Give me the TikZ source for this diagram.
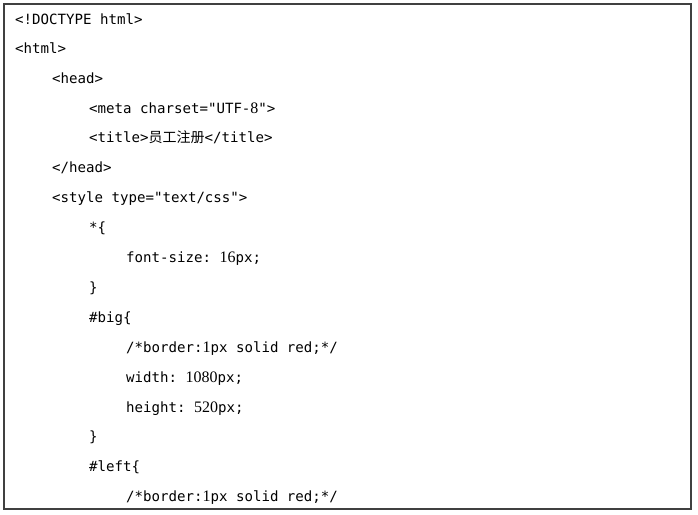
\documentclass[tikz,border=0pt]{standalone}
\usepackage{fontspec}
\setmonofont{DejaVu Sans Mono}
\newfontfamily\dg{Liberation Serif}
\newfontfamily\cjk{Noto Sans CJK SC}
\newcommand\dd[1]{{\fontsize{16pt}{16pt}\dg #1}}
\newcommand\zh[1]{{\fontsize{14pt}{14pt}\cjk #1}}
\begin{document}
\begin{tikzpicture}[x=1pt,y=-1pt,
  codeline/.style={anchor=base west,inner sep=0pt,font=\fontsize{14.1pt}{14pt}\ttfamily,text=black}]
\useasboundingbox (0,0) rectangle (698,514);
\draw[line width=1.5pt,draw=black!75] (4,4) rectangle (691,509);
\def\bl#1{\fpeval{113+(#1-4)*29.9}}
\node[codeline] (l1)  at (15,  24.5)    {<!DOCTYPE html>};
\node[codeline] (l2)  at (15,  \bl{2})  {<html>};
\node[codeline] (l3)  at (52,  \bl{3})  {<head>};
\node[codeline] (l4)  at (89,  \bl{4})  {<meta charset="UTF-\dd{8}">};
\node[codeline] (l5)  at (89,  \bl{5})  {<title>\zh{员工注册}</title>};
\node[codeline] (l6)  at (52,  \bl{6})  {</head>};
\node[codeline] (l7)  at (52,  \bl{7})  {<style type="text/css">};
\node[codeline] (l8)  at (89,  \bl{8})  {*\{};
\node[codeline] (l9)  at (126, \bl{9})  {font-size: \dd{16}px;};
\node[codeline] (l10) at (89,  \bl{10}) {\}};
\node[codeline] (l11) at (89,  \bl{11}) {\#big\{};
\node[codeline] (l12) at (126, \bl{12}) {/*border:\dd{1}px solid red;*/};
\node[codeline] (l13) at (126, \bl{13}) {width: \dd{1080}px;};
\node[codeline] (l14) at (126, \bl{14}) {height: \dd{520}px;};
\node[codeline] (l15) at (89,  \bl{15}) {\}};
\node[codeline] (l16) at (89,  \bl{16}) {\#left\{};
\node[codeline] (l17) at (126, \bl{17}) {/*border:\dd{1}px solid red;*/};
\end{tikzpicture}
\end{document}
